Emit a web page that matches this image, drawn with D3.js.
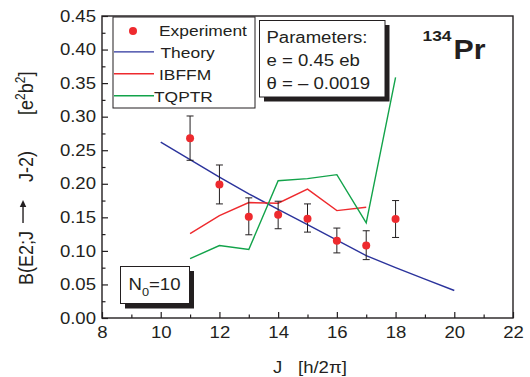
<!DOCTYPE html>
<html>
<head>
<meta charset="utf-8">
<script src="https://cdn.jsdelivr.net/npm/d3@7"></script>
<style>
  body { margin: 0; background: #fff; }
  svg { display: block; font-family: "Liberation Sans", Arial, sans-serif; }
</style>
</head>
<body>
<div id="chart"></div>
<script>
// data
const expJ = [11, 12, 13, 14, 15, 16, 17, 18]
const expVal = [0.268, 0.199, 0.151, 0.154, 0.148, 0.115, 0.108, 0.1475]
const expLo = [0.235, 0.170, 0.124, 0.133, 0.128, 0.097, 0.087, 0.120]
const expHi = [0.301, 0.228, 0.179, 0.174, 0.170, 0.134, 0.130, 0.175]

const theoryJ = [10, 11, 12, 13, 14, 15, 16, 17, 18, 19, 20]
const theoryVal = [0.262, 0.236, 0.210, 0.185, 0.162, 0.139, 0.116, 0.093, 0.075, 0.058, 0.041]

const ibffmJ = [11, 12, 13, 14, 15, 16, 17]
const ibffmVal = [0.1256, 0.1525, 0.172, 0.171, 0.192, 0.160, 0.165]

const tqptrJ = [11, 12, 13, 14, 15, 16, 17, 18]
const tqptrVal = [0.0884, 0.108, 0.102, 0.2046, 0.2076, 0.2136, 0.1416, 0.3586]

const xTicks = [8, 10, 12, 14, 16, 18, 20, 22]
const yTicks = [0, 0.05, 0.1, 0.15, 0.2, 0.25, 0.3, 0.35, 0.4, 0.45]
const legendNames = ['Experiment', 'Theory', 'IBFFM', 'TQPTR']
const paramLines = ['Parameters:', 'e = 0.45 eb', 'θ = – 0.0019']

const W = 530, H = 377
const margin = { left: 102, top: 16, right: 17, bottom: 59 }
const K = 1.16 // horizontal stretch of the lettering in the original

const colors = { exp: '#ee2a2e', theory: '#2b339c', ibffm: '#ee2a2e', tqptr: '#12a34a' }

const svg = d3.select('#chart').append('svg')
  .attr('width', W).attr('height', H)

const x = d3.scaleLinear().domain([8, 22]).range([margin.left, W - margin.right])
const y = d3.scaleLinear().domain([0, 0.45]).range([H - margin.bottom, margin.top])

function sText(parent, px, py, str, size, opts = {}) {
  const t = parent.append('text')
    .attr('transform', `translate(${px},${py}) scale(${K},1)`)
    .attr('font-size', size)
    .attr('fill', '#231f20')
    .text(str)
  if (opts.anchor) t.attr('text-anchor', opts.anchor)
  if (opts.weight) t.attr('font-weight', opts.weight)
  return t
}

// axes
const xAxis = svg.append('g')
  .attr('transform', `translate(0,${y(0)})`)
  .call(d3.axisBottom(x).tickValues(xTicks).tickSizeInner(-6).tickSizeOuter(0).tickPadding(9).tickFormat(d3.format('d')))
svg.append('g')
  .attr('transform', `translate(0,${y(0)})`)
  .call(d3.axisBottom(x).tickValues(d3.range(9, 22, 2)).tickSizeInner(-3.5).tickSizeOuter(0).tickFormat(''))

const yAxis = svg.append('g')
  .attr('transform', `translate(${x(8)},0)`)
  .call(d3.axisLeft(y).tickValues(yTicks).tickSizeInner(-6).tickSizeOuter(0).tickPadding(6).tickFormat(d3.format('.2f')))
svg.append('g')
  .attr('transform', `translate(${x(8)},0)`)
  .call(d3.axisLeft(y).tickValues(d3.range(0.025, 0.45, 0.05)).tickSizeInner(-3.5).tickSizeOuter(0).tickFormat(''))

svg.selectAll('.domain').remove()
svg.selectAll('.tick line').attr('stroke', '#231f20').attr('stroke-width', 1.2)
svg.selectAll('.tick text')
  .attr('font-size', 16)
  .attr('font-family', '"Liberation Sans", Arial, sans-serif')
  .attr('fill', '#231f20')
  .each(function() {
    const t = d3.select(this)
    t.attr('x', (+t.attr('x') || 0) / K).attr('transform', `scale(${K},1)`)
  })

// frame
svg.append('rect')
  .attr('x', x(8)).attr('y', y(0.45))
  .attr('width', x(22) - x(8)).attr('height', y(0) - y(0.45))
  .attr('fill', 'none').attr('stroke', '#231f20').attr('stroke-width', 1.4)

// legend box
const leg = svg.append('g')
leg.append('rect')
  .attr('x', 113).attr('y', 17).attr('width', 142).attr('height', 91)
  .attr('fill', '#fff').attr('stroke', '#231f20').attr('stroke-width', 1)
leg.append('circle').attr('cx', 133).attr('cy', 31).attr('r', 4).attr('fill', colors.exp)
const legColors = [null, colors.theory, colors.ibffm, colors.tqptr]
const legTextX = [159, 160.5, 159, 154]
legendNames.forEach((name, i) => {
  const by = 36 + i * 21.9
  if (i > 0) {
    leg.append('line')
      .attr('x1', 114).attr('x2', 154).attr('y1', by - 6).attr('y2', by - 6)
      .attr('stroke', legColors[i]).attr('stroke-width', 1.4)
  }
  sText(leg, legTextX[i], by, name, 15)
})

// parameters box
const pb = svg.append('g')
pb.append('rect').attr('x', 264).attr('y', 25).attr('width', 125.5).attr('height', 76.5).attr('fill', '#231f20')
pb.append('rect').attr('x', 259.5).attr('y', 20.5).attr('width', 125.5).attr('height', 76.5)
  .attr('fill', '#fff').attr('stroke', '#231f20').attr('stroke-width', 1)
paramLines.forEach((s, i) => sText(pb, 266.5, 42.7 + i * 23.3, s, 16))

// N0 box
const nb = svg.append('g')
nb.append('rect').attr('x', 125).attr('y', 271).attr('width', 69).attr('height', 37.5).attr('fill', '#231f20')
nb.append('rect').attr('x', 120.5).attr('y', 266.5).attr('width', 69).attr('height', 37)
  .attr('fill', '#fff').attr('stroke', '#231f20').attr('stroke-width', 1)
const nt = sText(nb, 128.5, 290, 'N', 16)
nt.append('tspan').attr('font-size', 11).attr('dy', 6).text('0')
nt.append('tspan').attr('dy', -6).text('=10')

// nucleus label
sText(svg, 422.5, 40.5, '134', 15, { weight: 'bold' })
svg.append('text')
  .attr('transform', `translate(453.5,58.5) scale(1.08,1)`)
  .attr('font-size', 28).attr('font-weight', 'bold').attr('fill', '#231f20')
  .text('Pr')

// series lines
const line = d3.line().x(d => x(d[0])).y(d => y(d[1]))
const series = [
  { J: theoryJ, v: theoryVal, c: colors.theory },
  { J: ibffmJ, v: ibffmVal, c: colors.ibffm },
  { J: tqptrJ, v: tqptrVal, c: colors.tqptr }
]
series.forEach(s => {
  svg.append('path')
    .datum(s.J.map((j, i) => [j, s.v[i]]))
    .attr('d', line)
    .attr('fill', 'none').attr('stroke', s.c).attr('stroke-width', 1.4)
})

// experiment with error bars
const exp = expJ.map((j, i) => ({ j, v: expVal[i], lo: expLo[i], hi: expHi[i] }))
const eb = svg.append('g').attr('stroke', '#231f20').attr('stroke-width', 1)
eb.selectAll('line.v').data(exp).join('line')
  .attr('x1', d => x(d.j)).attr('x2', d => x(d.j))
  .attr('y1', d => y(d.lo)).attr('y2', d => y(d.hi))
eb.selectAll('line.hi').data(exp).join('line')
  .attr('x1', d => x(d.j) - 3.5).attr('x2', d => x(d.j) + 3.5)
  .attr('y1', d => y(d.hi)).attr('y2', d => y(d.hi))
eb.selectAll('line.lo').data(exp).join('line')
  .attr('x1', d => x(d.j) - 3.5).attr('x2', d => x(d.j) + 3.5)
  .attr('y1', d => y(d.lo)).attr('y2', d => y(d.lo))
svg.append('g').selectAll('circle').data(exp).join('circle')
  .attr('cx', d => x(d.j)).attr('cy', d => y(d.v)).attr('r', 4)
  .attr('fill', colors.exp)

// x axis title
sText(svg, 273, 372.5, 'J', 16)
sText(svg, 298, 372.5, '[h/2π]', 16)

// y axis title (rotated, glyphs stretched across)
const yl = svg.append('g')
  .attr('transform', `translate(33,0) rotate(-90) scale(1,${K})`)
  .attr('fill', '#231f20')
yl.append('text').attr('x', -285).attr('y', 0).attr('font-size', 18).text('B(E2;J')
yl.append('line').attr('x1', -223).attr('x2', -206).attr('y1', -8.6).attr('y2', -8.6)
  .attr('stroke', '#231f20').attr('stroke-width', 1.2)
yl.append('path').attr('d', 'M-200,-8.6 L-207,-11.4 L-207,-5.8 Z')
yl.append('text').attr('x', -182).attr('y', 0).attr('font-size', 18).text('J-2)')
const ut = yl.append('text').attr('x', -115).attr('y', 0).attr('font-size', 18).text('[e')
ut.append('tspan').attr('font-size', 12).attr('dy', -7).text('2')
ut.append('tspan').attr('dy', 7).text('b')
ut.append('tspan').attr('font-size', 12).attr('dy', -7).text('2')
ut.append('tspan').attr('dy', 7).text(']')
</script>
</body>
</html>
